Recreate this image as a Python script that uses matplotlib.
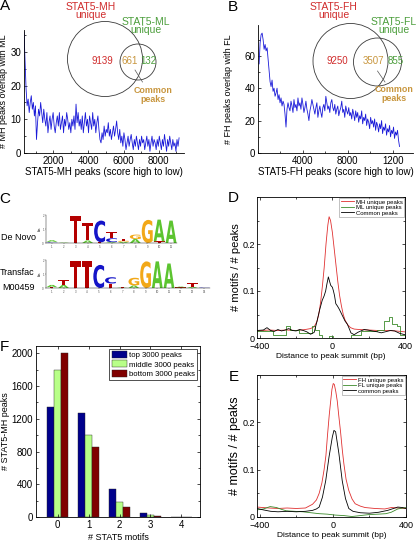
import numpy as np
import matplotlib
matplotlib.use('Agg')
from matplotlib import pyplot as plt
from matplotlib.patches import Circle, PathPatch
from matplotlib.textpath import TextPath
from matplotlib.font_manager import FontProperties
from matplotlib.transforms import Affine2D
from matplotlib.ticker import MultipleLocator

plt.rcParams['font.family'] = ['Liberation Sans', 'DejaVu Sans']
plt.rcParams['xtick.direction'] = 'in'
plt.rcParams['ytick.direction'] = 'in'
plt.rcParams['axes.linewidth'] = 0.6
plt.rcParams['xtick.major.width'] = 0.5
plt.rcParams['ytick.major.width'] = 0.5
plt.rcParams['xtick.minor.width'] = 0.5
plt.rcParams['ytick.minor.width'] = 0.5
plt.rcParams['xtick.major.size'] = 2.5
plt.rcParams['ytick.major.size'] = 2.5
plt.rcParams['xtick.minor.size'] = 1.5
plt.rcParams['ytick.minor.size'] = 1.5

# ---- data -----------------------------------------------------------------
# A: MH peaks overlapping ML (ranked by score)
mh_overlap = [
    35.8, 27, 19, 14, 16, 12, 15, 17, 13, 15,
    11, 14, 4, 9, 13, 11, 15, 12, 9, 13,
    10, 8, 12, 6, 9, 11, 7, 10, 12, 8,
    6, 9, 11, 8, 12, 7, 9, 11, 6, 10,
    8, 12, 10, 7, 9, 6, 10, 8, 11, 7,
    14.5, 9, 12, 8, 10, 7, 11, 6, 9, 12,
    8, 10, 6, 11, 9, 7, 12, 8, 10, 6,
    9, 11, 7, 4, 3, 6, 4, 8, 5, 7,
    6, 9, 5, 7, 4, 6, 8, 5, 7, 9.5,
    6, 4, 7, 3, 5, 2, 6, 4, 1, 3,
    5, 2, 4, 5.5, 3, 1, 4, 2, 5, 3,
    1, 4, 2, 5, 3, 4, 1, 3, 5, 2,
    4, 0.5, 3, 5, 2, 4, 3, 1, 4, 2,
    5, 3, 1, 4, 2, 5.5, 3, 0.5, 4, 2,
    5, 3, 1, 4, 2, 3, 0.5, 4, 2, 4.5,
]
mh_rank_range = (340, 9150)

# B: FH peaks overlapping FL
fh_overlap = [
    55, 68, 73, 74, 70, 64, 67, 63, 65, 58,
    51, 44, 41, 45, 38, 40, 35, 37, 40, 33,
    36, 31, 34, 29, 32, 30, 24, 16, 27, 31,
    28, 26, 32, 29, 25, 33, 28, 30, 26, 34,
    29, 31, 27, 34, 30, 25, 28, 32, 27, 24,
    20, 26, 29, 33, 30, 27, 24, 28, 31, 22,
    26, 29, 25, 22, 28, 30, 26, 35, 31, 27,
    29, 25, 31, 33, 28, 26, 30, 24, 27, 29,
    23, 26, 28, 32, 25, 27, 22, 29, 26, 24,
    28, 23, 25, 21, 27, 24, 20, 26, 22, 25,
    19, 23, 21, 26, 18, 22, 20, 24, 17, 21,
    19, 15, 22, 18, 20, 16, 21, 14, 19, 17,
    13, 18, 15, 20, 12, 16, 14, 18, 11, 15,
    13, 17, 10, 14, 12, 16, 9, 13, 11, 14, 8, 4,
]
fh_rank_range = (100, 12600)

venn_A = {'left': 9139, 'both': 661, 'right': 132}
venn_B = {'left': 9250, 'both': 3507, 'right': 855}

# C: sequence logos, each column listed bottom -> top as (base, bits)
denovo_cols = [
    [('C', 0.04), ('T', 0.04), ('A', 0.12)],
    [('T', 0.02), ('A', 0.03)],
    [('T', 1.95)],
    [('A', 0.18), ('T', 1.25)],
    [('T', 0.05), ('C', 1.55)],
    [('A', 0.06), ('C', 0.28), ('T', 0.48)],
    [('A', 0.08), ('G', 0.08), ('T', 0.12)],
    [('A', 0.28), ('G', 0.32)],
    [('G', 1.65)],
    [('T', 0.12), ('A', 1.55)],
    [('A', 1.6)],
]
transfac_cols = [
    [('T', 0.06), ('A', 0.16)],
    [('A', 0.22), ('T', 0.38)],
    [('T', 1.9)],
    [('T', 1.9)],
    [('C', 1.65)],
    [('T', 0.32), ('C', 0.45)],
    [('A', 0.03), ('T', 0.03)],
    [('A', 0.18), ('G', 0.55)],
    [('G', 1.9)],
    [('A', 1.9)],
    [('A', 1.75)],
    [('T', 0.04), ('A', 0.06)],
    [('A', 0.08), ('T', 0.28)],
    [('T', 0.03), ('C', 0.03)],
]
base_colors = {'A': '#5cc430', 'C': '#1414c8', 'G': '#f2a818', 'T': '#b40000'}

# D: motif density around MH/ML peak summits
d_red_x = [-415, -350, -300, -250, -200, -150, -120, -100, -85, -75, -65, -55, -45, -35, -25, -18,
           -10, 0, 10, 20, 30, 40, 50, 60, 70, 85, 100, 120, 150, 200, 250, 300, 350, 400]
d_red_y = [0.015, 0.017, 0.016, 0.017, 0.016, 0.018, 0.02, 0.024, 0.035, 0.05, 0.075, 0.11, 0.15,
           0.2, 0.24, 0.258, 0.25, 0.225, 0.19, 0.155, 0.12, 0.09, 0.068, 0.05, 0.038, 0.028,
           0.022, 0.019, 0.018, 0.017, 0.016, 0.016, 0.015, 0.013]
d_blk_x = [-415, -380, -360, -340, -320, -300, -280, -260, -240, -220, -200, -180, -160, -140, -120,
           -100, -85, -70, -56, -45, -37, -30, -22, -15, -9, 0, 6, 12, 19, 28, 37, 46, 56, 70, 83,
           95, 102, 120, 140, 157, 175, 194, 220, 250, 269, 300, 320, 343, 370, 389, 400]
d_blk_y = [0.016, 0.017, 0.022, 0.016, 0.014, 0.018, 0.015, 0.017, 0.02, 0.016, 0.015, 0.018, 0.016,
           0.013, 0.008, 0.012, 0.035, 0.06, 0.08, 0.09, 0.1, 0.115, 0.13, 0.12, 0.112, 0.108, 0.1,
           0.09, 0.073, 0.068, 0.062, 0.055, 0.047, 0.036, 0.029, 0.018, 0.011, 0.007, 0.012, 0.015,
           0.018, 0.017, 0.015, 0.013, 0.011, 0.014, 0.016, 0.015, 0.01, 0.008, 0.007]
d_grn_x = [-415, -325, -254, -236, -182, -110, -93, -75, -57, -21, 6, 104, 158, 248, 283, 310, 328,
           355, 373, 400]
d_grn_y = [0.015, 0.007, 0.025, 0.018, 0.01, 0.025, 0.017, 0.007, 0.0, 0.004, 0.0, 0.007, 0.015,
           0.018, 0.036, 0.044, 0.03, 0.025, 0.007, 0.007]

# E: motif density around FH/FL peak summits
e_red_x = [-415, -350, -300, -250, -200, -150, -111, -90, -75, -60, -48, -38, -30, -20, -12, -5, 2,
           8, 16, 24, 32, 42, 52, 60, 72, 87, 105, 122, 150, 176, 230, 284, 320, 355, 400]
e_red_y = [0.021, 0.019, 0.018, 0.019, 0.018, 0.019, 0.027, 0.036, 0.05, 0.072, 0.1, 0.13, 0.17,
           0.215, 0.245, 0.27, 0.282, 0.28, 0.265, 0.245, 0.215, 0.18, 0.14, 0.113, 0.08, 0.056,
           0.038, 0.028, 0.023, 0.02, 0.018, 0.017, 0.02, 0.019, 0.018]
e_blk_x = [-415, -380, -340, -300, -250, -200, -150, -111, -90, -75, -57, -39, -21, -3, 6, 15, 33,
           51, 69, 87, 110, 150, 200, 250, 300, 355, 380, 400]
e_blk_y = [0.018, 0.015, 0.012, 0.011, 0.012, 0.011, 0.012, 0.014, 0.017, 0.021, 0.042, 0.077,
           0.127, 0.169, 0.183, 0.18, 0.134, 0.077, 0.039, 0.018, 0.012, 0.009, 0.008, 0.01, 0.014,
           0.021, 0.02, 0.018]
e_grn_x = [-415, -380, -343, -308, -280, -254, -210, -164, -120, -75, -30, 15, 60, 104, 150, 194,
           248, 290, 319, 355, 400]
e_grn_y = [0.015, 0.017, 0.022, 0.02, 0.016, 0.013, 0.012, 0.011, 0.009, 0.007, 0.006, 0.004,
           0.003, 0.001, 0.003, 0.005, 0.006, 0.007, 0.01, 0.017, 0.02]

# F: number of motifs per peak, by score tier
motif_counts = [0, 1, 2, 3, 4]
top_3000 = [1340, 1268, 345, 45, 4]
middle_3000 = [1795, 998, 185, 26, 3]
bottom_3000 = [2003, 855, 128, 15, 2]

# ---- layout helpers ---------------------------------------------------------
W, H = 416, 543
fig = plt.figure(figsize=(W / 100, H / 100), dpi=100)


def rect(l, t, r, b):
    return [l / W, 1 - b / H, (r - l) / W, (b - t) / H]


def ftext(x, y, s, **kw):
    kw.setdefault('ha', 'center')
    kw.setdefault('va', 'center')
    fig.text(x / W, 1 - y / H, s, **kw)


RED, GREEN, TAN = '#d02c2c', '#4c9e3c', '#c8963e'
LINE_BLUE = '#1a1ad8'

# ---- A -----------------------------------------------------------------------
axA = fig.add_axes(rect(24, 30, 184, 153))
axA.plot(np.linspace(*mh_rank_range, len(mh_overlap)), mh_overlap, color=LINE_BLUE, lw=0.6)
axA.set_xlim(340, 9430)
axA.set_ylim(0, 36.5)
axA.set_xticks([2000, 4000, 6000, 8000])
axA.xaxis.set_minor_locator(MultipleLocator(1000))
axA.set_yticks([0, 10, 20, 30])
axA.yaxis.set_minor_locator(MultipleLocator(5))
axA.spines[['top', 'right']].set_visible(False)
axA.tick_params(labelsize=7, pad=2)
axA.set_xlabel('STAT5-MH peaks (score high to low)', fontsize=7, labelpad=1)
axA.set_ylabel('# MH peaks overlap with ML', fontsize=6.5, labelpad=2)

# ---- B -----------------------------------------------------------------------
axB = fig.add_axes(rect(258, 25, 413, 153))
axB.plot(np.linspace(*fh_rank_range, len(fh_overlap)), fh_overlap, color=LINE_BLUE, lw=0.6)
axB.set_xlim(0, 13800)
axB.set_ylim(0, 79)
axB.set_xticks([4000, 8000, 12000])
axB.set_xticklabels(['4000', '8000', '1200'])
axB.xaxis.set_minor_locator(MultipleLocator(2000))
axB.set_yticks([0, 20, 40, 60])
axB.yaxis.set_minor_locator(MultipleLocator(10))
axB.spines[['top', 'right']].set_visible(False)
axB.tick_params(labelsize=7, pad=2)
axB.set_xlabel('STAT5-FH peaks (score high to low)', fontsize=7, labelpad=1)
axB.set_ylabel('# FH peaks overlap with FL', fontsize=6.5, labelpad=8)

# ---- C: logos ------------------------------------------------------------------
logo_font = FontProperties(family='DejaVu Sans', weight='bold')


def draw_logo(ax, cols):
    for i, col in enumerate(cols):
        base = 0.0
        for letter, h in col:
            tp = TextPath((0, 0), letter, size=1, prop=logo_font)
            bb = tp.get_extents()
            tr = (Affine2D().translate(-bb.x0, -bb.y0)
                  .scale(0.92 / bb.width, h / bb.height)
                  .translate(i + 1 - 0.46, base))
            ax.add_patch(PathPatch(tr.transform_path(tp), color=base_colors[letter], lw=0))
            base += h
    ax.set_xlim(0.5, len(cols) + 0.5)
    ax.set_ylim(0, 2)
    ax.spines[['top', 'right']].set_visible(False)
    ax.spines[['left', 'bottom']].set_linewidth(0.3)
    ax.set_xticks(range(1, len(cols) + 1))
    ax.set_yticks([0, 1, 2])
    ax.tick_params(direction='out', length=1, width=0.3, labelsize=2, pad=0.5, colors='#444444')
    ax.set_ylabel('bits', fontsize=2, labelpad=0.5)


axC1 = fig.add_axes(rect(46, 215, 177, 243))
draw_logo(axC1, denovo_cols)
axC2 = fig.add_axes(rect(46, 260, 210, 288))
draw_logo(axC2, transfac_cols)
ftext(1, 238, 'De Novo', fontsize=6.5, ha='left')
ftext(0, 272, 'Transfac', fontsize=6.5, ha='left')
ftext(2, 287, 'M00459', fontsize=6.5, ha='left')

# ---- D -----------------------------------------------------------------------
axD = fig.add_axes(rect(257, 197, 405, 338))
axD.plot(d_red_x, d_red_y, color='#e03030', lw=0.6, label='MH unique peaks')
axD.plot(d_grn_x, d_grn_y, color='#3a8a2a', lw=0.6, drawstyle='steps-post', label='ML unique peaks')
axD.plot(d_blk_x, d_blk_y, color='k', lw=0.6, label='Common peaks')

# ---- E -----------------------------------------------------------------------
axE = fig.add_axes(rect(257, 375, 406, 517))
axE.plot(e_red_x, e_red_y, color='#e03030', lw=0.6, label='FH unique peaks')
axE.plot(e_grn_x, e_grn_y, color='#3a8a2a', lw=0.6, label='FL unique peaks')
axE.plot(e_blk_x, e_blk_y, color='k', lw=0.6, label='common peaks')

for ax, ylsize in [(axD, 8), (axE, 9)]:
    ax.set_xlim(-415, 400)
    ax.set_ylim(0, 0.3)
    ax.set_xticks([-400, 0, 400])
    ax.xaxis.set_minor_locator(MultipleLocator(200))
    ax.set_yticks([0, 0.1, 0.2])
    ax.set_yticklabels(['0', '0.1', '0.2'])
    ax.yaxis.set_minor_locator(MultipleLocator(0.05))
    ax.tick_params(which='both', top=True, right=True, labelsize=6.5, pad=1.5)
    ax.tick_params(axis='x', pad=3)
    ax.set_xlabel('Distance to peak summit (bp)', fontsize=6, labelpad=1)
    ax.set_ylabel('# motifs / # peaks', fontsize=ylsize, labelpad=1)
    leg = ax.legend(loc='upper right', fontsize=4.3, handlelength=2.2, labelspacing=0.05,
                    borderpad=0.25, borderaxespad=0.15, handletextpad=0.3, fancybox=False)
    leg.get_frame().set_linewidth(0.4)
    leg.get_frame().set_edgecolor('#777777')

# ---- F -----------------------------------------------------------------------
axF = fig.add_axes(rect(36, 346, 200, 517))
bw = 0.22
pos = np.array(motif_counts)
axF.bar(pos - bw, top_3000, bw, color='#00008c', edgecolor='#222222', lw=0.3, label='top 3000 peaks')
axF.bar(pos, middle_3000, bw, color='#b8ff88', edgecolor='#222222', lw=0.3, label='middle 3000 peaks')
axF.bar(pos + bw, bottom_3000, bw, color='#800000', edgecolor='#222222', lw=0.3, label='bottom 3000 peaks')
axF.set_xlim(-0.7, 4.6)
axF.set_ylim(0, 2090)
axF.set_xticks(motif_counts)
axF.set_yticks(range(0, 2001, 400))
axF.yaxis.set_minor_locator(MultipleLocator(200))
axF.tick_params(which='both', top=True, right=True, labelsize=7, pad=2)
axF.set_xlabel('# STAT5 motifs', fontsize=6.5, labelpad=2)
axF.set_ylabel('# STAT5-MH peaks', fontsize=6.5, labelpad=1)
leg = axF.legend(loc='upper right', fontsize=5.6, handlelength=1.9, handleheight=1.0,
                 labelspacing=0.15, borderpad=0.3, borderaxespad=0.35, handletextpad=0.3,
                 fancybox=False)
leg.get_frame().set_linewidth(0.6)
leg.get_frame().set_edgecolor('k')

# ---- Venn overlays (pixel space) ---------------------------------------------
ov = fig.add_axes([0, 0, 1, 1], zorder=10)
ov.set_xlim(0, W)
ov.set_ylim(H, 0)
ov.axis('off')


def venn(counts, big, small, ltxt, rtxt, lpos, rpos, cpos, nums_y, xs, pointer):
    ov.add_patch(Circle(big[:2], big[2], fill=False, ec='#3a3a3a', lw=0.6))
    ov.add_patch(Circle(small[:2], small[2], fill=False, ec='#3a3a3a', lw=0.6))
    ov.text(*lpos, ltxt, color=RED, fontsize=7.5, ha='center', va='center', linespacing=0.85)
    ov.text(*rpos, rtxt, color=GREEN, fontsize=7.5, ha='center', va='center', linespacing=0.85)
    ov.text(xs[0], nums_y, str(counts['left']), color=RED, fontsize=7, ha='center', va='center')
    ov.text(xs[1], nums_y, str(counts['both']), color=TAN, fontsize=7, ha='center', va='center')
    ov.text(xs[2], nums_y, str(counts['right']), color=GREEN, fontsize=7, ha='center', va='center')
    ov.text(*cpos, 'Common\npeaks', color=TAN, fontsize=6.4, fontweight='bold',
            ha='center', va='center', linespacing=1.1)
    ov.plot(pointer[0], pointer[1], color='#555555', lw=0.5)


venn(venn_A, (105, 59, 37.5), (138, 62, 18), 'STAT5-MH\nunique', 'STAT5-ML\nunique',
     (91, 11), (146, 26), (153, 95), 61, (102, 130, 148), ((135, 142.5), (70, 82)))
venn(venn_B, (350.5, 61, 37.5), (377.5, 62, 24), 'STAT5-FH\nunique', 'STAT5-FL\nunique',
     (334, 11), (394, 26), (394, 94), 61, (337, 373, 396), ((377.5, 385), (71, 82)))

# ---- panel letters ---------------------------------------------------------------
for lab, x, y in [('A', 5, 6), ('B', 233, 7), ('C', 5, 199), ('D', 233, 198),
                  ('E', 234, 377), ('F', 4, 347)]:
    ftext(x, y, lab, fontsize=11)

fig.savefig('out.png', dpi=100)
